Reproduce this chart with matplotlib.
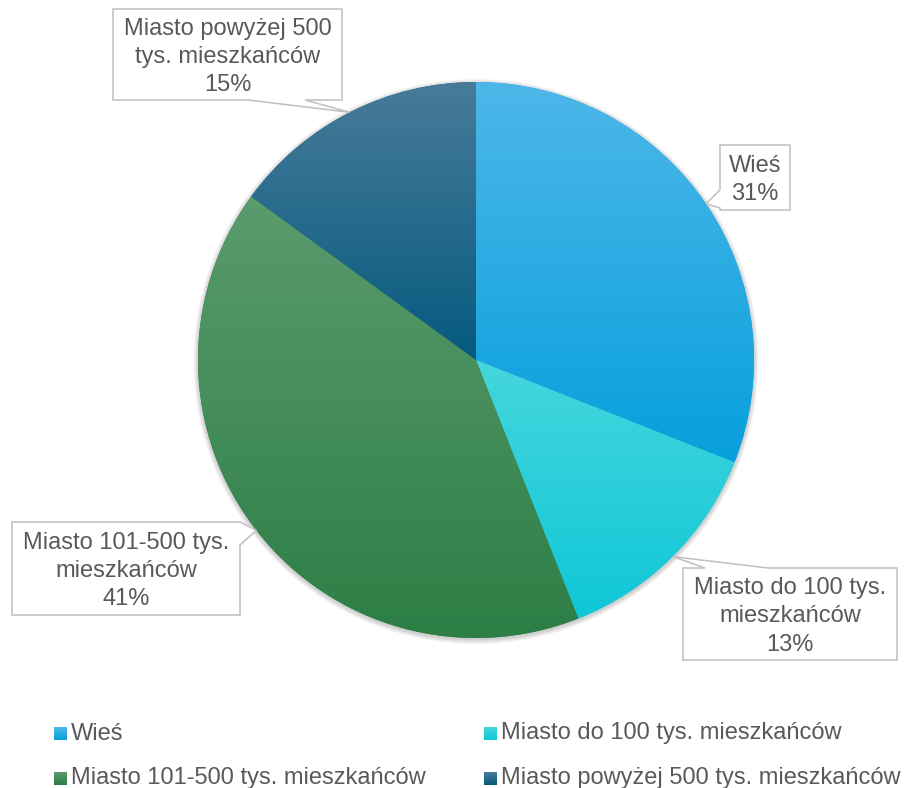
import numpy as np
import matplotlib.pyplot as plt
from matplotlib.patches import Polygon, Circle
from matplotlib.colors import LinearSegmentedColormap

plt.rcParams['font.family'] = ['Liberation Sans', 'DejaVu Sans']

categories = ['Wieś', 'Miasto do 100 tys. mieszkańców',
              'Miasto 101-500 tys. mieszkańców', 'Miasto powyżej 500 tys. mieszkańców']
shares = [31, 13, 41, 15]
label_text = ['Wieś', 'Miasto do 100 tys.\nmieszkańców',
              'Miasto 101-500 tys.\nmieszkańców', 'Miasto powyżej 500\ntys. mieszkańców']
top_colors = ['#4db7e9', '#46d6dd', '#5b9b6d', '#487b99']
bottom_colors = ['#07a0dc', '#0fc7d7', '#2c7e45', '#055a7e']

# callout boxes in pixel coords (x0, y0, x1, y1, edge, base_a, base_b)
boxes = [
    (720, 145, 790, 210, 'left', 190, 208),
    (683, 568, 897, 660, 'top', 705, 768),
    (12, 522, 240, 615, 'right', 522, 545),
    (113, 9, 342, 100, 'bottom', 248, 305),
]

W, H = 910, 788
TXT = '#595959'
fig = plt.figure(figsize=(W / 100, H / 100), dpi=100)
ax = fig.add_axes([0, 0, 1, 1])

cx, cy, r = 476, 360, 278


def fy(y):
    return H - y


# soft shadow under the pie, shifted a little down
for k in range(1, 9):
    ax.add_patch(Circle((cx, fy(cy + 1.5)), r + k * 0.6, facecolor='k', alpha=0.022,
                        linewidth=0, zorder=0))

wedges, _ = ax.pie(shares, startangle=90, counterclock=False, center=(cx, fy(cy)),
                   radius=r, wedgeprops=dict(linewidth=0))


def gradient_fill(patch, top, bottom, extent):
    cmap = LinearSegmentedColormap.from_list('g', [bottom, top])
    grad = np.linspace(0, 1, 256).reshape(-1, 1)
    im = ax.imshow(grad, cmap=cmap, extent=extent, origin='lower',
                   aspect='auto', zorder=2, interpolation='bilinear')
    im.set_clip_path(patch)


for w, tc, bc in zip(wedges, top_colors, bottom_colors):
    w.set_facecolor(bc)
    verts = w.get_patch_transform().transform(w.get_path().vertices)
    ext = [verts[:, 0].min(), verts[:, 0].max(), verts[:, 1].min(), verts[:, 1].max()]
    gradient_fill(w, tc, bc, ext)


def callout(x0, y0, x1, y1, edge, a, b, tip):
    if edge == 'bottom':
        pts = [(x0, y0), (x1, y0), (x1, y1), (b, y1), tip, (a, y1), (x0, y1)]
    elif edge == 'top':
        pts = [(x0, y0), (a, y0), tip, (b, y0), (x1, y0), (x1, y1), (x0, y1)]
    elif edge == 'left':
        pts = [(x0, y0), (x1, y0), (x1, y1), (x0, y1), (x0, b), tip, (x0, a)]
    else:
        pts = [(x0, y0), (x1, y0), (x1, a), tip, (x1, b), (x1, y1), (x0, y1)]
    pts = [(px, fy(py)) for px, py in pts]
    ax.add_patch(Polygon(pts, closed=True, facecolor='white', edgecolor='#bfbfbf',
                         linewidth=1.1, zorder=5))


start = 0
for i, (share, txt) in enumerate(zip(shares, label_text)):
    mid = (start + share / 2) / sum(shares) * 2 * np.pi
    start += share
    tip = (cx + r * np.sin(mid), cy - r * np.cos(mid))
    x0, y0, x1, y1, edge, a, b = boxes[i]
    callout(x0, y0, x1, y1, edge, a, b, tip)
    ax.text((x0 + x1) / 2, fy((y0 + y1) / 2 + 2.5), f'{txt}\n{share}%', ha='center',
            va='center', fontsize=17, color=TXT, linespacing=1.38, zorder=6)

# legend, two columns
leg_pos = [(54, 733.5), (484, 733.5), (54, 778), (484, 778)]
for (lx, ly), name, tc, bc in zip(leg_pos, categories, top_colors, bottom_colors):
    cmap = LinearSegmentedColormap.from_list('g', [bc, tc])
    ax.imshow(np.linspace(0, 1, 16).reshape(-1, 1), cmap=cmap, origin='lower',
              extent=[lx, lx + 13, fy(ly + 6.5), fy(ly - 6.5)], aspect='auto', zorder=3)
    ax.text(lx + 17, fy(ly), name, ha='left', va='center', fontsize=17, color=TXT)

ax.set_xlim(0, W)
ax.set_ylim(0, H)
ax.set_aspect('auto')
ax.axis('off')
fig.savefig('out.png', dpi=100, facecolor='white')
